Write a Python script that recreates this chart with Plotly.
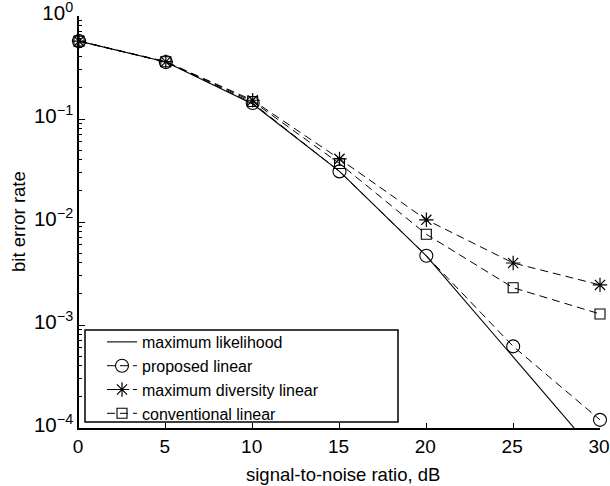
import plotly.graph_objects as go

snr_db = [0, 5, 10, 15, 20, 25, 30]
ber_ml = [0.57, 0.357, 0.14, 0.031, 0.0047, 0.00049, 0.000051]
ber_proposed = [0.57, 0.357, 0.143, 0.031, 0.0047, 0.00062, 0.00012]
ber_maxdiv = [0.57, 0.36, 0.152, 0.041, 0.0105, 0.0040, 0.00245]
ber_conv = [0.57, 0.36, 0.148, 0.037, 0.0076, 0.0023, 0.00128]

names = ["maximum likelihood", "proposed linear",
         "maximum diversity linear", "conventional linear"]

y_tickvals = [1, 0.1, 0.01, 0.001, 0.0001]
y_ticktext = ["10<sup>0</sup>", "10<sup>\u22121</sup>", "10<sup>\u22122</sup>",
              "10<sup>\u22123</sup>", "10<sup>\u22124</sup>"]
x_tickvals = [0, 5, 10, 15, 20, 25, 30]

FONT = "Liberation Sans, Arial, Helvetica, sans-serif"
dash = "8px,5px"

W, H = 610, 486
# plot area in page px
PL, PR, PT, PB = 79, 600, 16, 428
PW, PH = PR - PL, PB - PT


def px(x):
    return (x - PL) / PW


def py(y):
    return (PB - y) / PH


fig = go.Figure()
fig.add_trace(go.Scatter(x=snr_db, y=ber_ml, name=names[0], mode="lines",
                         line=dict(color="black", width=1.1), cliponaxis=True))
fig.add_trace(go.Scatter(x=snr_db, y=ber_proposed, name=names[1], mode="lines+markers",
                         line=dict(color="black", width=1, dash=dash),
                         marker=dict(symbol="circle-open", size=13, color="black",
                                     line=dict(width=1.1, color="black")),
                         cliponaxis=False))
fig.add_trace(go.Scatter(x=snr_db, y=ber_maxdiv, name=names[2], mode="lines+markers",
                         line=dict(color="black", width=1, dash=dash),
                         marker=dict(symbol="asterisk-open", size=12, color="black",
                                     line=dict(width=1.2, color="black")),
                         cliponaxis=False))
fig.add_trace(go.Scatter(x=snr_db, y=ber_conv, name=names[3], mode="lines+markers",
                         line=dict(color="black", width=1, dash=dash),
                         marker=dict(symbol="square-open", size=10, color="black",
                                     line=dict(width=1.1, color="black")),
                         cliponaxis=False))

# legend box
fig.add_shape(type="rect", xref="paper", yref="paper",
              x0=px(85), x1=px(398), y0=py(422), y1=py(330),
              line=dict(color="black", width=1.5), fillcolor="white", layer="above")

minor_vals = [m * 10 ** e for e in range(-4, 0) for m in range(2, 10)]

fig.update_layout(
    width=W, height=H,
    margin=dict(l=PL, r=W - PR, t=PT, b=H - PB, autoexpand=False),
    paper_bgcolor="white", plot_bgcolor="white",
    font=dict(family=FONT, color="black", size=19),
    showlegend=True,
    legend=dict(x=px(102), y=py(325), xanchor="left", yanchor="top",
                bgcolor="rgba(0,0,0,0)", borderwidth=0,
                font=dict(family=FONT, size=16, color="black"),
                itemwidth=30, tracegroupgap=0),
    xaxis=dict(range=[0, 30], tickmode="array", tickvals=x_tickvals,
               ticks="inside", ticklen=5, tickwidth=1, tickcolor="black",
               showline=True, linecolor="black", linewidth=1.5, mirror=False,
               showgrid=False, zeroline=False, automargin=False,
               ticklabeloverflow="allow", ticklabelshift=-1,
               tickfont=dict(family=FONT, size=19), ticklabelstandoff=0),
    yaxis=dict(type="log", range=[-4, 0], tickmode="array", tickvals=y_tickvals,
               ticktext=y_ticktext, automargin=False, ticklabeloverflow="allow",
               ticks="inside", ticklen=6, tickwidth=1, tickcolor="black",
               showline=True, linecolor="black", linewidth=1.5, mirror=False,
               showgrid=False, zeroline=False, ticklabelstandoff=0,
               ticklabelshift=-3,
               tickfont=dict(family=FONT, size=20.5),
               minor=dict(tickmode="array", tickvals=minor_vals, ticks="inside",
                          ticklen=3, tickwidth=1, tickcolor="black", showgrid=False)),
)

fig.add_annotation(text="signal-to-noise ratio, dB", xref="paper", yref="paper",
                   x=px(342.5), y=py(474),
                   xanchor="center", yanchor="middle", showarrow=False,
                   font=dict(family=FONT, size=18.5, color="black"))
fig.add_annotation(text="bit error rate", xref="paper", yref="paper",
                   x=px(18), y=0.5, textangle=-90,
                   xanchor="center", yanchor="middle", showarrow=False,
                   font=dict(family=FONT, size=18.5, color="black"))

fig.write_html("out.html",
               config={"displayModeBar": False},
               post_script="document.body.style.margin='0px';"
                           "document.body.style.overflow='hidden';")
